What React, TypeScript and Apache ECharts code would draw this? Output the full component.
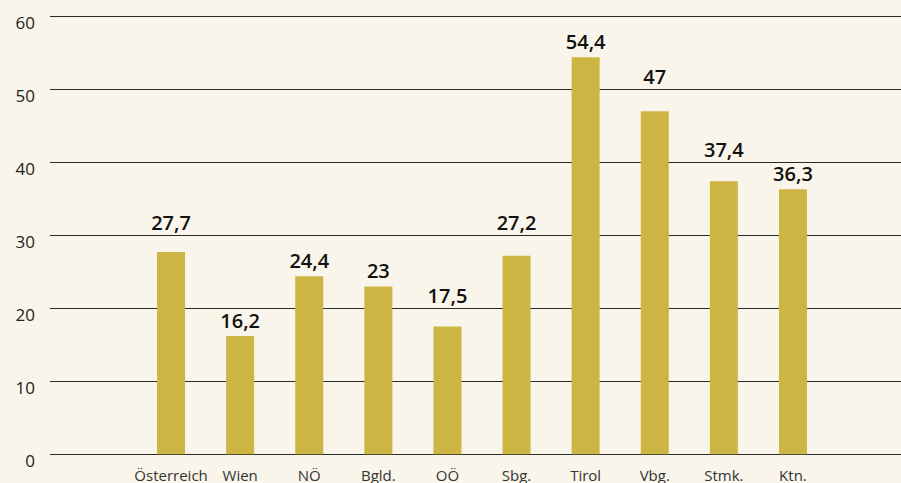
import React, { useEffect, useRef } from "react";
import * as echarts from "echarts";

const categories = ["Österreich", "Wien", "NÖ", "Bgld.", "OÖ", "Sbg.", "Tirol", "Vbg.", "Stmk.", "Ktn."];
const values = [27.7, 16.2, 24.4, 23, 17.5, 27.2, 54.4, 47, 37.4, 36.3];
const yTicks = [0, 10, 20, 30, 40, 50, 60];

const FONT = "'Open Sans', 'Noto Sans', sans-serif";

export default function App() {
  const ref = useRef<HTMLDivElement>(null);
  useEffect(() => {
    document.body.style.margin = "0";
    if (!ref.current) return;
    const chart = echarts.init(ref.current, null, { renderer: "svg" });
    const yMin = yTicks[0];
    const yMax = yTicks[yTicks.length - 1];
    const plotTop = 16.3;
    const plotBottom = 28.7;
    const plotH = 483 - plotTop - plotBottom;
    const pxPerUnit = plotH / (yMax - yMin);

    // Place value labels above bars, lifting them above a gridline if they would cross it
    const data = values.map((v) => {
      const barTopPx = v * pxPerUnit;
      const defaultCenter = barTopPx + 16;
      let center = defaultCenter;
      for (const t of yTicks) {
        const gy = t * pxPerUnit;
        if (gy > barTopPx && gy >= defaultCenter - 8 && gy <= defaultCenter + 8) {
          center = gy + 13;
        }
      }
      const offset = -(center - barTopPx - 10);
      return { value: v, label: { offset: [0, offset] } };
    });

    chart.setOption({
      animation: false,
      backgroundColor: "#f9f5ea",
      grid: [
        { left: 50, right: 0, top: plotTop, bottom: plotBottom },
        { left: 136.5, right: 73.5, top: plotTop, bottom: plotBottom },
      ],
      xAxis: [
        { type: "value", gridIndex: 0, show: false, min: 0, max: 1 },
        {
          type: "category",
          gridIndex: 1,
          data: categories,
          axisLine: { show: false },
          axisTick: { show: false },
          axisLabel: { interval: 0, color: "#333", fontFamily: FONT, fontSize: 15, margin: 13 },
        },
      ],
      yAxis: [
        {
          type: "value",
          gridIndex: 0,
          min: yMin,
          max: yMax,
          interval: 10,
          axisLine: { show: false },
          axisTick: { show: false },
          splitLine: { lineStyle: { color: "#2a2a2a", width: 1 } },
          axisLabel: {
            color: "#222",
            fontFamily: FONT,
            fontSize: 17,
            margin: 15,
            verticalAlign: "top",
            lineHeight: 12,
          },
        },
        { type: "value", gridIndex: 1, show: false, min: yMin, max: yMax },
      ],
      series: [
        {
          type: "bar",
          xAxisIndex: 1,
          yAxisIndex: 1,
          data,
          barWidth: 28,
          itemStyle: { color: "#cdb543" },
          label: {
            show: true,
            position: "top",
            distance: 0,
            color: "#111",
            fontFamily: FONT,
            fontSize: 20,
            lineHeight: 20,
            fontWeight: 600,
            formatter: (p: any) => String(p.value).replace(".", ","),
          },
        },
      ],
    });
    return () => chart.dispose();
  }, []);
  return <div ref={ref} style={{ width: 901, height: 483 }} />;
}
